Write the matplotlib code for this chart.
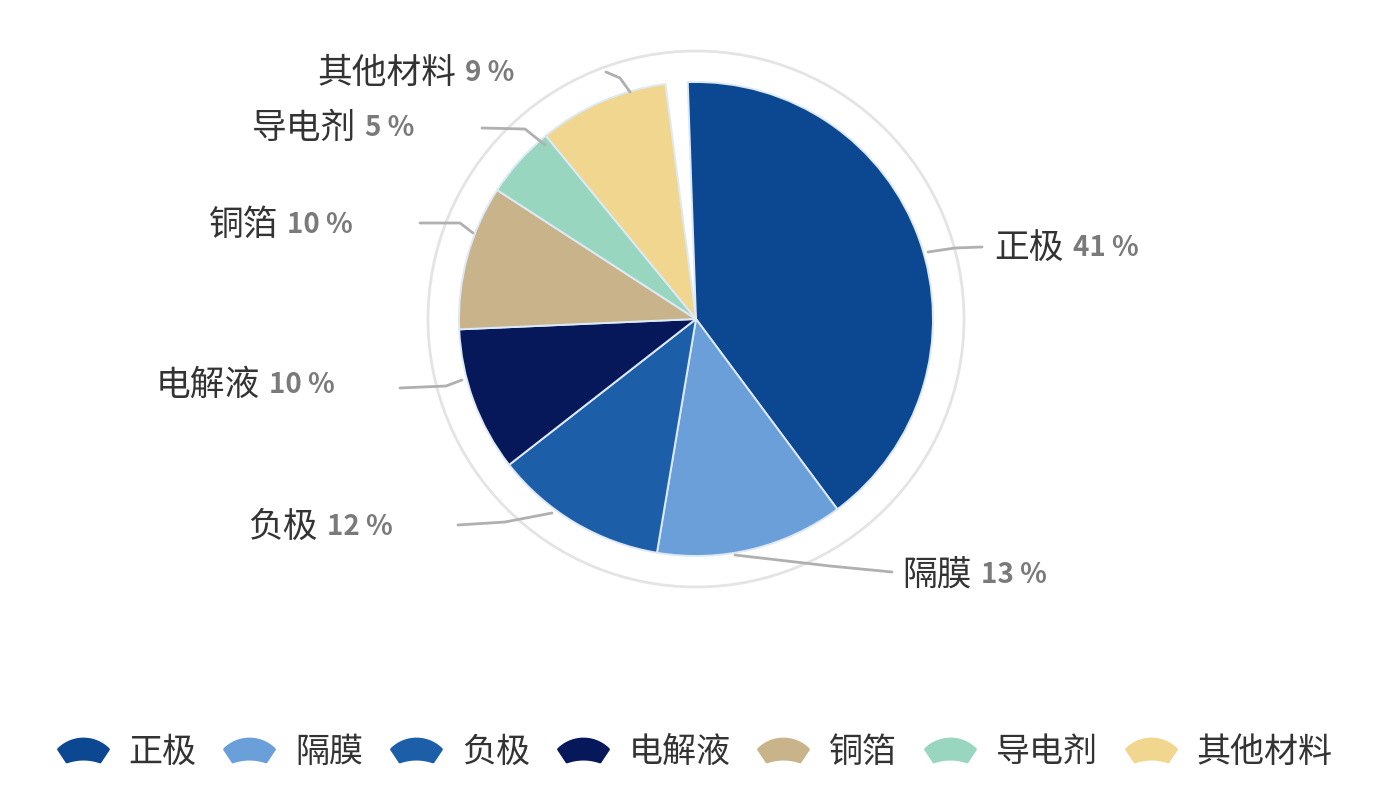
import numpy as np
import matplotlib
matplotlib.use("Agg")
import matplotlib.pyplot as plt
from matplotlib.path import Path
from matplotlib.patches import Circle
from matplotlib.lines import Line2D

plt.rcParams['font.family'] = ['Noto Sans CJK SC', 'DejaVu Sans']

# ----- data -----
names = ["正极", "隔膜", "负极", "电解液", "铜箔", "导电剂", "其他材料"]
shares = [41, 13, 12, 10, 10, 5, 9]
colors = ["#0b4891", "#6a9fd9", "#1d5ea9", "#07185a", "#c8b38b", "#98d6bf", "#f1d690"]

# label layout (image pixel coords): split x between name and percent, text y
label_pos = {
    "其他材料": (456, 73),
    "导电剂": (356, 128),
    "铜箔": (278, 225),
    "电解液": (260, 385),
    "负极": (318, 527),
    "隔膜": (972, 575),
    "正极": (1064, 248),
}
# leader lines (image pixel coords)
leaders = {
    "其他材料": [(606, 72), (620, 78), (630, 92)],
    "导电剂": [(482, 128), (525, 129), (545, 145)],
    "铜箔": [(420, 223), (460, 223), (473, 233)],
    "电解液": [(400, 388), (446, 386), (462, 380)],
    "负极": [(458, 525), (505, 522), (552, 513)],
    "隔膜": [(735, 555), (830, 566), (892, 572)],
    "正极": [(928, 252), (955, 248), (982, 247)],
}

W, H = 1398, 802
CX, CY, R = 696, 319, 237


def fy(y):
    return H - y


fig = plt.figure(figsize=(W / 100, H / 100), dpi=100)
ax = fig.add_axes([0, 0, 1, 1])

# slight gap at the top like in the original
fracs = np.array(shares) / 100 * 0.985
ax.pie(fracs, colors=colors, startangle=92, counterclock=False,
       center=(CX, fy(CY)), radius=R, normalize=False,
       wedgeprops=dict(edgecolor="#dde9f5", linewidth=1.4))

ax.add_patch(Circle((CX, fy(CY)), 268, fill=False, edgecolor="#e4e4e4", lw=2))

for name, pct in zip(names, shares):
    x, y = label_pos[name]
    ax.text(x, fy(y), name, ha="right", va="center", fontsize=25, color="#333333",
            fontweight="medium")
    ax.text(x + 9, fy(y), f"{pct} %", ha="left", va="center", fontsize=20,
            color="#7a7a7a", fontweight="bold")
    pts = leaders[name]
    ax.plot([p[0] for p in pts], [fy(p[1]) for p in pts], color="#b0b0b0", lw=2,
            solid_capstyle="round")

# pie() resets limits, so set them afterwards
ax.set_xlim(0, W)
ax.set_ylim(0, H)
ax.set_aspect("equal")
ax.axis("off")

# fan shaped legend marker: arc on top, shallow concave bottom
t = np.linspace(np.radians(45), np.radians(135), 30)
top = np.column_stack([np.cos(t), np.sin(t)])
bx = np.linspace(-0.47, 0.47, 30)
bottom = np.column_stack([bx, 0.35 + 0.08 * (1 - (bx / 0.47) ** 2)])
verts = np.vstack([top, bottom])
verts[:, 1] -= (verts[:, 1].max() + verts[:, 1].min()) / 2
verts = np.vstack([verts, verts[:1]])
fan = Path(verts, [Path.MOVETO] + [Path.LINETO] * (len(verts) - 2) + [Path.CLOSEPOLY])

handles = [Line2D([], [], linestyle="none", marker=fan, markersize=36,
                  markerfacecolor=c, markeredgecolor=c, markeredgewidth=2)
           for c in colors]
fig.legend(handles, names, loc="center", bbox_to_anchor=(0.497, 1 - 752 / H),
           ncol=7, frameon=False, fontsize=24.5, handlelength=1.5,
           handletextpad=0.6, columnspacing=0.8, labelcolor="#333333")

fig.savefig("out.png", dpi=100, facecolor="white")
